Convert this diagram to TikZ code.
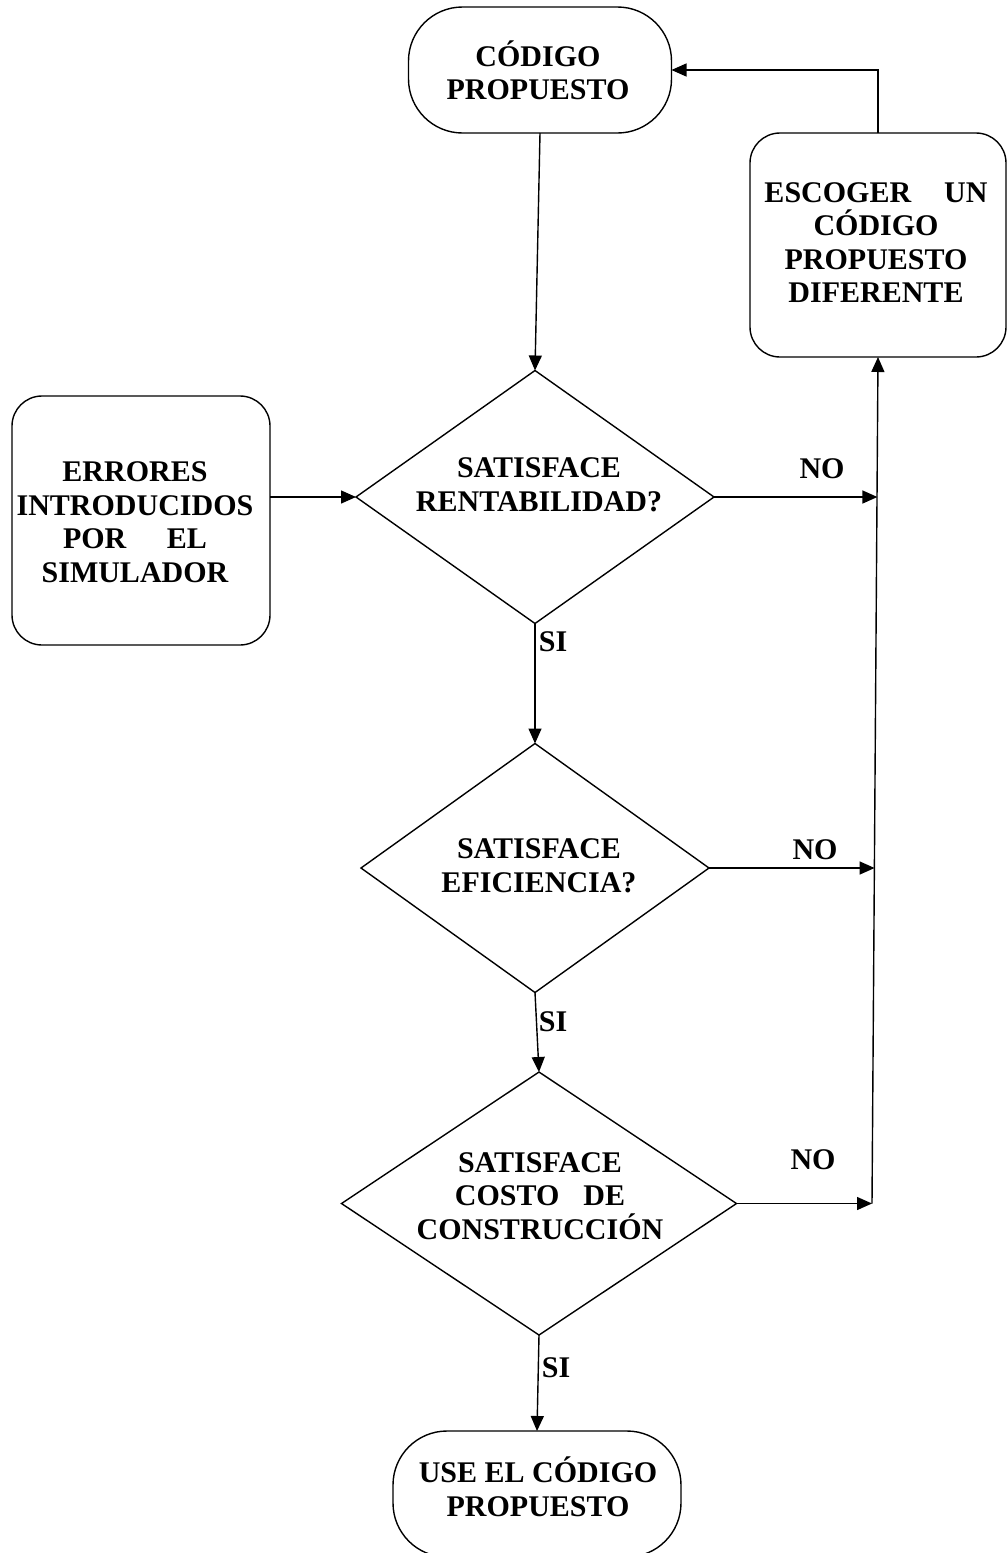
\documentclass[tikz,border=0pt]{standalone}
\usepackage{fontspec}
\setmainfont{Liberation Serif}
\usetikzlibrary{shapes.geometric,arrows.meta}
\begin{document}
\begin{tikzpicture}[x=1pt,y=-1pt,
  fig/.style={draw, line width=1.4pt, inner sep=0pt, outer sep=0pt},
  term/.style={fig, rectangle, rounded corners=54pt},
  proc/.style={fig, rectangle, rounded corners=30pt},
  dec/.style={fig, diamond},
  txt/.style={font=\fontsize{30}{33.5}\selectfont\bfseries, align=center, inner sep=0pt},
  lbl/.style={font=\fontsize{30}{33.5}\selectfont\bfseries, inner sep=0pt},
  arr/.style={line width=1.4pt, -{Triangle[length=15pt,width=13pt]}}]
\useasboundingbox (0,0) rectangle (1007,1553);

% shapes
\node[term, minimum width=263pt, minimum height=126pt] (term1) at (540,70) {};
\node[proc, minimum width=256pt, minimum height=224pt] (escoger) at (878,245) {};
\node[proc, minimum width=258pt, minimum height=249pt] (errores) at (141,520.5) {};
\node[dec, minimum width=358pt, minimum height=253pt] (d1) at (535,497) {};
\node[dec, minimum width=348pt, minimum height=249pt] (d2) at (535,868) {};
\node[dec, minimum width=395pt, minimum height=263pt] (d3) at (539,1203.5) {};
\node[term, minimum width=288pt, minimum height=126pt] (term2) at (537,1494) {};

% texts
\node[txt] (t-term1) at (538,70.5) {CÓDIGO\\PROPUESTO};
\node[txt] (t-escoger) at (876,242.5) {ESCOGER\hspace{1.1em}UN\\CÓDIGO\hspace*{0.7em}\\PROPUESTO\\DIFERENTE};
\node[txt] (t-errores) at (135,522) {ERRORES\\INTRODUCIDOS\\POR\hspace{1.35em}EL\\SIMULADOR};
\node[txt] (t-d1) at (539,485) {SATISFACE\\RENTABILIDAD?};
\node[txt] (t-d2) at (539,866) {SATISFACE\\EFICIENCIA?};
\node[txt] (t-d3) at (540,1196) {SATISFACE\\COSTO\hspace{0.8em}DE\\CONSTRUCCIÓN};
\node[txt] (t-term2) at (538,1487) {USE EL CÓDIGO\\PROPUESTO};

% labels
\node[lbl] (no1) at (822,469) {NO};
\node[lbl] (no2) at (815,850) {NO};
\node[lbl] (no3) at (813,1160) {NO};
\node[lbl] (si1) at (553,642) {SI};
\node[lbl] (si2) at (553,1022) {SI};
\node[lbl] (si3) at (556,1368) {SI};

% junctions on the return line
\coordinate (j1) at (877.4,497);
\coordinate (j2) at (874.6,868);
\coordinate (j3) at (872,1203.5);

% connectors
\draw[arr] (term1.south) -- (d1.north);
\draw[arr] (errores.east |- d1.west) -- (d1.west);
\draw[arr] (d1.south) -- (d2.north);
\draw[arr] (d2.south) -- (d3.north);
\draw[arr] (d3.south) -- (term2.north);
\draw[arr] (d1.east) -- (j1);
\draw[arr] (d2.east) -- (j2);
\draw[arr] (d3.east) -- (j3);
\draw[arr] (j3) -- (escoger.south);
\draw[arr] (escoger.north) |- (term1.east);
\end{tikzpicture}
\end{document}
